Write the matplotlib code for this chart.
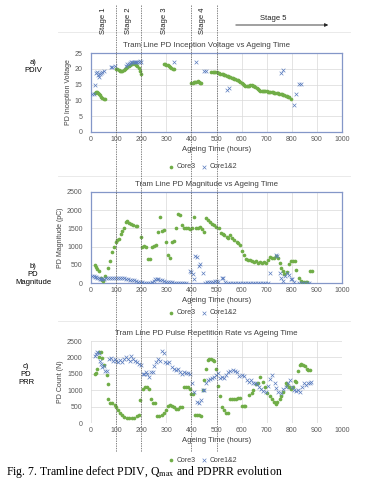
import matplotlib
matplotlib.use('Agg')
import matplotlib.pyplot as plt
from matplotlib.lines import Line2D
from matplotlib.transforms import blended_transform_factory

# ---- PDIV (kV) ----
pdiv_core3_h = [17, 20, 24, 28, 32, 36, 40, 45, 50, 55,
	100, 105, 110, 115, 120, 125, 130, 135, 140, 145, 150, 155, 160, 165, 170, 175, 180, 185, 190, 195, 200,
	290, 295, 300, 305, 310, 315, 320, 325, 330,
	400, 405, 410, 415, 420, 425, 430, 435, 440,
	480, 485, 490, 495, 500, 505, 510, 515, 520, 525, 530, 535, 540, 545, 550, 555, 560, 565, 570, 575,
	580, 585, 590, 595, 600, 605, 610, 615, 620, 625, 630, 635, 640, 645, 650, 655, 660, 665, 670, 675,
	680, 685, 690, 695, 700, 705, 710, 715, 720, 725, 730, 735, 740, 745, 750, 755, 760, 765, 770, 775,
	780, 785, 790, 795]
pdiv_core3 = [12.3, 12.6, 12.8, 12.5, 12.0, 11.6, 11.2, 10.9, 10.6, 10.4,
	19.9, 19.8, 19.5, 19.3, 19.2, 19.3, 19.6, 19.9, 20.2, 20.5, 20.8, 21.1, 21.4, 21.6, 21.7, 21.5, 21.2, 20.8, 20.2, 19.2, 18.4,
	21.4, 21.4, 21.3, 21.1, 20.9, 20.6, 20.3, 20.0, 19.8,
	15.6, 15.6, 15.7, 15.7, 15.8, 16.0, 15.8, 15.5, 15.4,
	19.1, 19.0, 19.0, 18.9, 18.9, 18.7, 18.6, 18.5, 18.4, 18.2, 18.0, 17.9, 17.8, 17.6, 17.4, 17.3, 17.2, 17.0, 16.9, 16.8,
	16.6, 16.4, 16.2, 15.9, 15.6, 15.2, 14.9, 14.6, 14.5, 14.5, 14.6, 14.9, 15.0, 14.7, 14.4, 14.1, 13.8, 13.5, 13.3, 13.1,
	13.0, 12.9, 12.9, 12.9, 12.9, 12.8, 12.8, 12.8, 12.7, 12.6, 12.5, 12.4, 12.3, 12.2, 12.1, 12.0, 11.9, 11.8, 11.6, 11.5,
	11.3, 11.2, 11.0, 10.4]

pdiv_core12_h = [3, 12, 15, 20, 24, 27, 30, 35, 40, 45, 52, 78, 85, 95,
	140, 145, 150, 155, 160, 165, 170, 175, 180, 185, 190, 195, 200,
	331, 420, 450, 460, 540, 549, 755, 763, 810, 818, 830, 838]
pdiv_core12 = [12.0, 12.1, 15.0, 18.8, 19.0, 18.0, 17.3, 18.4, 18.7, 18.9, 19.2, 20.5, 20.7, 21.0,
	21.0, 21.4, 21.6, 21.8, 22.0, 22.0, 22.1, 22.2, 22.3, 22.3, 22.2, 22.4, 22.3,
	22.3, 22.3, 19.4, 19.3, 13.3, 14.0, 18.8, 19.5, 8.6, 11.9, 15.3, 15.1]

# ---- PD magnitude (pC) ----
pdm_core3_h = [15, 20, 25, 30, 38, 43, 48, 57, 68, 76, 84, 90, 98, 104, 111, 118, 125, 131, 139, 145,
	152, 160, 168, 178, 185, 199, 205, 213, 220, 229, 236, 244, 252, 260, 268, 276, 284, 291, 298, 306,
	314, 322, 329, 338, 347, 355, 363, 371, 379, 387, 395, 403, 411, 419, 428, 436, 444, 452, 460, 467,
	475, 483, 491, 499, 508, 516, 524, 531, 540, 547, 555, 563, 571, 580, 587, 595, 603, 611, 619, 627,
	635, 643, 651, 659, 667, 675, 683, 691, 699, 707, 715, 722, 730, 737, 744, 751, 757, 764, 770, 779,
	787, 797, 806, 812, 817, 828, 835, 842, 848, 855, 862, 874, 880]
pdm_core3 = [500, 450, 380, 330, 150, 90, 60, 190, 400, 610, 860, 1000, 1130, 1180, 1220, 1350, 1440, 1500, 1680, 1710,
	1660, 1620, 1600, 1570, 1570, 1270, 980, 1010, 1000, 650, 650, 980, 1010, 1040, 1410, 1810, 1430, 1450, 1130, 770,
	700, 1130, 1160, 1520, 1900, 1870, 1580, 1500, 1500, 1500, 1480, 1500, 1810, 1500, 1500, 1530, 1480, 1400, 1780, 1730,
	1670, 1620, 1580, 1530, 1500, 1360, 1350, 1320, 1270, 1250, 1320, 1230, 1180, 1130, 1090, 1040, 890, 770, 650, 630,
	630, 610, 580, 600, 550, 580, 560, 590, 560, 620, 720, 680, 700, 740, 700, 540, 400, 330, 240, 290,
	510, 600, 600, 610, 370, 150, 60, 20, 20, 20, 20, 330, 330]

pdm_core12_h = [5, 10, 15, 20, 25, 30, 35, 40, 45, 50, 58, 66, 74, 82, 90, 98, 106, 114, 122, 130,
	138, 146, 154, 162, 170, 178, 186, 194, 202, 210, 218, 226, 234, 242, 250, 256, 262, 268, 274, 282,
	290, 298, 306, 314, 322, 330, 338, 346, 354, 362, 370, 378, 393, 400, 406, 410, 415, 423, 430, 436,
	445, 455, 462, 470, 478, 486, 494, 500, 506, 520, 526, 535, 545, 555, 565, 575, 585, 595, 605, 615,
	625, 635, 645, 655, 665, 675, 685, 695, 705, 715, 737, 741, 751, 757, 765, 773, 781, 788, 795, 802,
	810, 830, 840, 850, 860, 870]
pdm_core12 = [200, 185, 165, 160, 150, 140, 120, 110, 100, 120, 140, 140, 130, 130, 130, 125, 130, 140, 150, 140,
	120, 110, 90, 80, 70, 55, 40, 25, 15, 10, 10, 10, 10, 20, 50, 100, 120, 110, 90, 70,
	55, 40, 30, 25, 20, 10, 10, 10, 10, 10, 10, 10, 330, 290, 250, 100, 740, 720, 470, 530,
	280, 10, 15, 15, 20, 30, 45, 50, 25, 140, 140, 15, 10, 10, 10, 10, 10, 10, 10, 10,
	10, 10, 10, 10, 10, 10, 10, 10, 10, 270, 760, 740, 270, 150, 60, 200, 270, 230, 120, 100,
	20, 10, 10, 10, 10, 10]

# ---- PD pulse repetition rate (count) ----
prr_core3_h = [15, 20, 25, 30, 33, 38, 43, 50, 62, 66, 68, 77, 85, 94, 101, 108, 114, 123, 132, 143,
	153, 163, 173, 183, 191, 196, 207, 215, 222, 230, 238, 246, 253, 264, 272, 282, 289, 298, 306, 314,
	322, 330, 338, 346, 354, 362, 370, 378, 386, 393, 399, 406, 415, 422, 430, 437, 445, 452, 460, 465,
	472, 479, 486, 491, 498, 506, 514, 522, 530, 538, 546, 553, 561, 569, 577, 585, 593, 600, 608, 615,
	630, 640, 646, 657, 666, 675, 685, 694, 703, 712, 721, 729, 736, 743, 751, 757, 764, 775, 782, 789,
	797, 805, 812, 818, 825, 832, 838, 845, 853, 860, 866, 873]
prr_core3 = [1490, 1530, 1660, 2000, 2170, 2170, 1990, 1770, 1460, 1190, 725, 605, 605, 555, 500, 400, 300, 250, 180, 150,
	150, 150, 150, 200, 250, 690, 1040, 1090, 1090, 1040, 725, 625, 625, 220, 200, 250, 320, 400, 520, 545,
	520, 500, 420, 440, 500, 500, 1090, 1090, 1090, 1030, 880, 870, 250, 250, 250, 200, 1000, 1310, 1640, 1910,
	1940, 1940, 1920, 1890, 1640, 1130, 810, 500, 400, 320, 320, 730, 740, 740, 740, 750, 750, 520, 530, 530,
	860, 910, 1010, 1190, 1210, 1390, 1260, 1090, 910, 810, 725, 640, 585, 655, 725, 810, 960, 1230, 1160, 1090,
	1030, 1090, 1290, 1260, 1590, 1760, 1790, 1760, 1730, 1660, 1610, 1610]

prr_core12_h = [15, 20, 25, 30, 35, 40, 45, 52, 57, 62, 70, 78, 86, 94, 100, 108, 116, 124, 132, 140,
	146, 154, 160, 168, 176, 184, 192, 200, 206, 212, 218, 224, 230, 238, 246, 252, 260, 268, 276, 282,
	289, 296, 304, 312, 322, 330, 338, 346, 354, 362, 370, 378, 388, 396, 404, 412, 421, 429, 438, 445,
	452, 460, 467, 475, 483, 490, 499, 507, 514, 522, 530, 538, 547, 555, 564, 572, 582, 591, 600, 608,
	620, 628, 637, 646, 655, 663, 670, 678, 687, 696, 705, 714, 722, 732, 738, 746, 756, 765, 775, 784,
	793, 800, 808, 816, 825, 832, 840, 848, 856, 864, 871, 878]
prr_core12 = [2050, 2100, 2150, 2120, 1900, 1800, 1700, 1750, 1600, 1580, 1950, 1980, 1900, 1950, 1900, 1850, 1920, 1850, 1950, 2000,
	1950, 1900, 2050, 1950, 1900, 1850, 1800, 1780, 1500, 1480, 1560, 1500, 1400, 1550, 1560, 1750, 1850, 1950, 1900, 2200,
	2140, 1870, 1830, 1870, 1700, 1660, 1610, 1660, 1560, 1500, 1560, 1510, 1510, 1500, 1230, 960, 650, 600, 700, 1000,
	1000, 1230, 1310, 1330, 1360, 1400, 1460, 1510, 1360, 1410, 1360, 1460, 1560, 1580, 1610, 1590, 1560, 1430, 1460, 1420,
	1310, 1260, 1310, 1210, 1230, 1180, 1110, 1030, 990, 960, 1130, 1330, 1460, 1210, 1080, 960, 910, 1030, 1090, 1210,
	1310, 1090, 1010, 990, 1000, 960, 1100, 1230, 1160, 1210, 1230, 1260]

stage_hours = [100, 200, 400, 500]
stage_names = ['Stage 1', 'Stage 2', 'Stage 3', 'Stage 4']

GREEN = '#70ad47'
BLUE = '#5b7dbf'
W, H = 372.0, 484.0


def fx(px):
	return px / W


def fy(py):
	return 1 - py / H


def setup_axes(ax, title, ylabel, ymax, ystep, frame):
	ax.set_xlim(0, 1000)
	ax.set_ylim(0, ymax)
	ax.set_xticks(range(0, 1001, 100))
	ax.set_yticks(range(0, ymax + 1, ystep))
	ax.grid(True, color='#d9d9d9', linewidth=0.5)
	ax.set_axisbelow(True)
	ax.tick_params(length=0, labelsize=5, colors='#595959', pad=3)
	ax.tick_params(axis='y', pad=6)
	# Excel centres the title on the whole chart area, a bit left of the plot centre
	ax.set_title(title, fontsize=5.7, color='#404040', pad=4, x=0.46)
	ax.set_ylabel(ylabel, fontsize=5, color='#404040', labelpad=2)
	ax.set_xlabel('Ageing Time (hours)', fontsize=5.5, color='#404040', labelpad=2)
	for s in ax.spines.values():
		if frame:
			s.set_color('#8497c8')
			s.set_linewidth(0.9)
		else:
			s.set_visible(False)


plt.rcParams['font.family'] = ['Liberation Sans', 'DejaVu Sans']
plt.rcParams['mathtext.fontset'] = 'stix'

fig = plt.figure(figsize=(3.72, 4.84), dpi=100)

ax_a = fig.add_axes([fx(91), fy(132), fx(342) - fx(91), fy(53) - fy(132)])
ax_b = fig.add_axes([fx(91), fy(283), fx(342) - fx(91), fy(192) - fy(283)])
ax_c = fig.add_axes([fx(91), fy(423), fx(342) - fx(91), fy(341) - fy(423)])

kw3 = dict(s=7, color=GREEN, marker='o', linewidths=0, label='Core3', zorder=3)
kw12 = dict(s=7, color=BLUE, marker='x', linewidths=0.5, label='Core1&2', zorder=3)

ax_a.scatter(pdiv_core3_h, pdiv_core3, **kw3)
ax_a.scatter(pdiv_core12_h, pdiv_core12, **kw12)
setup_axes(ax_a, 'Tram Line PD Inception Voltage vs Ageing Time', 'PD Inception Voltage', 25, 5, True)

ax_b.scatter(pdm_core3_h, pdm_core3, **kw3)
ax_b.scatter(pdm_core12_h, pdm_core12, **kw12)
setup_axes(ax_b, 'Tram Line PD Magnitude vs Ageing Time', 'PD Magnitude (pC)', 2500, 500, True)

ax_c.scatter(prr_core3_h, prr_core3, **kw3)
ax_c.scatter(prr_core12_h, prr_core12, **kw12)
setup_axes(ax_c, 'Tram Line PD Pulse Repetition Rate vs Ageing Time', 'PD Count (N)', 2500, 500, False)

# legends under each chart
for ax, ly in [(ax_a, 167), (ax_b, 313), (ax_c, 460)]:
	ax.legend(loc='center', bbox_to_anchor=(fx(203), fy(ly)), bbox_transform=fig.transFigure,
		ncol=2, frameon=False, fontsize=5, handlelength=0.6, handletextpad=0.4, columnspacing=1.0,
		borderpad=0.1, labelcolor='#404040')

# chart-area separator lines
for sy in [32, 176, 321]:
	fig.add_artist(Line2D([fx(58), fx(350)], [fy(sy), fy(sy)], transform=fig.transFigure,
		color='#e6e6e6', linewidth=0.6))

# stage boundaries (dashed, spanning all panels)
trans = blended_transform_factory(ax_a.transData, fig.transFigure)
for h in stage_hours:
	fig.add_artist(Line2D([h, h], [fy(5), fy(452)], transform=trans,
		color='#555555', linewidth=0.5, linestyle=(0, (2, 1.5))))

for name, px in zip(stage_names, [104, 128, 165, 203]):
	fig.text(fx(px), fy(21), name, rotation=90, ha='center', va='center', fontsize=5.5, color='#222222')

fig.text(fx(273), fy(19), 'Stage 5', ha='center', va='center', fontsize=5.5, color='#222222')
fig.add_artist(matplotlib.patches.FancyArrowPatch((fx(233), fy(25)), (fx(331), fy(25)),
	transform=fig.transFigure, arrowstyle='-|>', mutation_scale=5, linewidth=0.6, color='#222222'))

# panel labels
fig.text(fx(33), fy(67), 'a)\nPDIV', ha='center', va='center', fontsize=5.5, linespacing=1.2)
fig.text(fx(33), fy(275), 'b)\nPD\nMagnitude', ha='center', va='center', fontsize=5.5, linespacing=1.2)
fig.text(fx(26), fy(375), 'c)\nPD\nPRR', ha='center', va='center', fontsize=5.5, linespacing=1.2)

fig.text(fx(6), fy(472), 'Fig. 7. Tramline defect PDIV, Q$_{\\mathrm{max}}$ and PDPRR evolution',
	ha='left', va='center', fontsize=8.5, family='Liberation Serif')

fig.savefig('out.png', dpi=100)
